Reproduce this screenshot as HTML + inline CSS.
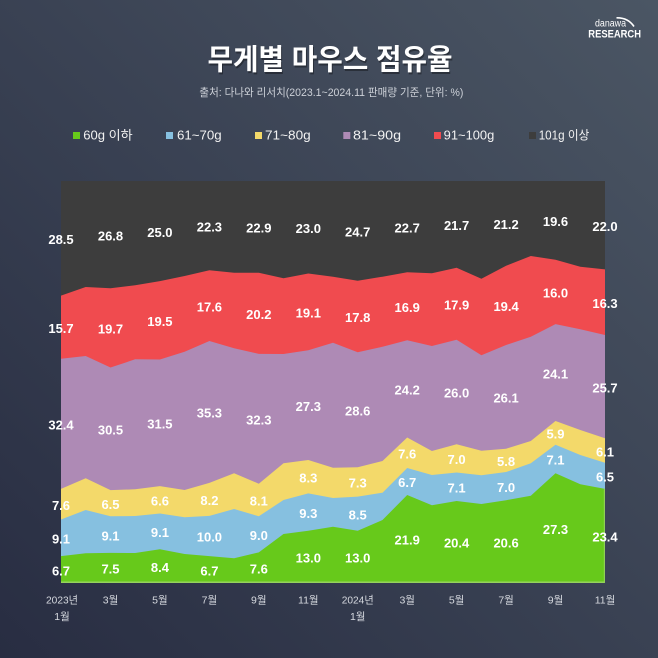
<!DOCTYPE html>
<html><head><meta charset="utf-8"><style>
html,body{margin:0;padding:0;background:#333a4c;}
svg{display:block;}
text{font-family:"Liberation Sans","Noto Sans CJK KR",sans-serif;}
</style></head><body>
<svg width="658" height="658" viewBox="0 0 658 658" xmlns="http://www.w3.org/2000/svg">
<defs>
<linearGradient id="bg" x1="0" y1="1" x2="1" y2="0">
<stop offset="0" stop-color="#282d42"/>
<stop offset="1" stop-color="#4b5664"/>
</linearGradient>
</defs>
<rect x="0" y="0" width="658" height="658" fill="url(#bg)"/>

<!-- logo -->
<text x="595" y="26.7" font-size="10" fill="#ffffff" textLength="31" lengthAdjust="spacingAndGlyphs">danawa</text>
<path d="M616.5,17.8 Q628,17.5 634,26.5" stroke="#ffffff" stroke-width="1.6" fill="none"/>
<text x="588.3" y="37.3" font-size="11" font-weight="bold" fill="#ffffff" textLength="52.7" lengthAdjust="spacingAndGlyphs">RESEARCH</text>

<!-- title -->
<text x="330" y="69.5" font-size="29" font-weight="bold" fill="#000" fill-opacity="0.35" text-anchor="middle" textLength="245" lengthAdjust="spacingAndGlyphs" transform="translate(1,2)">무게별 마우스 점유율</text>
<text x="330" y="69.5" font-size="29" font-weight="bold" fill="#ffffff" text-anchor="middle" textLength="245" lengthAdjust="spacingAndGlyphs">무게별 마우스 점유율</text>
<text x="331.4" y="96" font-size="11" fill="#cdd1d8" text-anchor="middle" textLength="264" lengthAdjust="spacingAndGlyphs">출처: 다나와 리서치(2023.1~2024.11 판매량 기준, 단위: %)</text>

<!-- legend -->
<g font-size="12.5" fill="#f2f2f2">
<rect x="73" y="132" width="7" height="7" fill="#67c91b"/>
<text x="83.3" y="139.5" textLength="49.4" lengthAdjust="spacingAndGlyphs">60g 이하</text>
<rect x="166" y="132" width="7" height="7" fill="#86c0e0"/>
<text x="177" y="139.5" textLength="44.7" lengthAdjust="spacingAndGlyphs">61~70g</text>
<rect x="255" y="132" width="7" height="7" fill="#f3d96a"/>
<text x="265" y="139.5" textLength="45.7" lengthAdjust="spacingAndGlyphs">71~80g</text>
<rect x="343.3" y="132" width="7" height="7" fill="#ae8ab5"/>
<text x="353" y="139.5" textLength="48" lengthAdjust="spacingAndGlyphs">81~90g</text>
<rect x="434" y="132" width="7" height="7" fill="#f04b4f"/>
<text x="443.7" y="139.5" textLength="50.6" lengthAdjust="spacingAndGlyphs">91~100g</text>
<rect x="529" y="132" width="7" height="7" fill="#3d3d3d"/>
<text x="538.7" y="139.5" textLength="50.6" lengthAdjust="spacingAndGlyphs">101g 이상</text>
</g>

<!-- chart -->
<rect x="61" y="181" width="544" height="402" fill="#3d3d3d"/>
<polygon fill="#f04b4f" points="61,295.6 85.7,287 110.5,288.3 135.2,285.3 159.9,281.1 184.6,276 209.4,270.2 234.1,272.7 258.8,272.7 283.5,278.3 308.3,273.5 333,276.7 357.7,280.7 382.5,276.7 407.2,272.3 431.9,273.3 456.6,267.8 481.4,278.7 506.1,265.8 530.8,256 555.5,259.8 580.3,266.7 605,269.4 605,583 61,583"/>
<polygon fill="#ae8ab5" points="61,358.7 85.7,356 110.5,367.5 135.2,359.3 159.9,359.5 184.6,351.7 209.4,341 234.1,348.3 258.8,353.9 283.5,354 308.3,350.2 333,342.7 357.7,352.3 382.5,346.7 407.2,340.2 431.9,346 456.6,339.8 481.4,355.3 506.1,345 530.8,336.7 555.5,324.1 580.3,329.3 605,335 605,583 61,583"/>
<polygon fill="#f3d96a" points="61,488.9 85.7,478.3 110.5,490.1 135.2,489.3 159.9,486.1 184.6,490 209.4,482.9 234.1,473.3 258.8,483.7 283.5,463.3 308.3,460 333,467.7 357.7,467.2 382.5,461 407.2,437.5 431.9,451 456.6,444.3 481.4,450.7 506.1,448.7 530.8,441 555.5,421 580.3,430 605,438.3 605,583 61,583"/>
<polygon fill="#86c0e0" points="61,519.5 85.7,510 110.5,516.3 135.2,516 159.9,513.5 184.6,517.3 209.4,515.9 234.1,509 258.8,516.3 283.5,500 308.3,493.4 333,498 357.7,496.6 382.5,492.7 407.2,468 431.9,475 456.6,472.5 481.4,475.3 506.1,472 530.8,463.3 555.5,444.7 580.3,455 605,462.8 605,583 61,583"/>
<polygon fill="#67c91b" points="61,556.1 85.7,553.3 110.5,552.9 135.2,553 159.9,549.2 184.6,554 209.4,556.1 234.1,558.3 258.8,552.4 283.5,534 308.3,530.7 333,526.7 357.7,530.7 382.5,520 407.2,495 431.9,505.3 456.6,501 481.4,504 506.1,500.2 530.8,495.7 555.5,473.3 580.3,484.3 605,488.9 605,583 61,583"/>
<line x1="61" y1="582.3" x2="605" y2="582.3" stroke="#95d35c" stroke-width="1.5"/>
<line x1="604.4" y1="488.9" x2="604.4" y2="583" stroke="#8fd055" stroke-width="1.2"/>

<!-- value labels -->
<g font-size="13" font-weight="bold" fill="#ffffff" text-anchor="middle">
<text x="61" y="244">28.5</text><text x="61" y="332.9">15.7</text><text x="61" y="429.5">32.4</text><text x="61" y="509.9">7.6</text><text x="61" y="543.5">9.1</text><text x="61" y="575.3">6.7</text>
<text x="110.5" y="240.4">26.8</text><text x="110.5" y="333.6">19.7</text><text x="110.5" y="434.5">30.5</text><text x="110.5" y="508.9">6.5</text><text x="110.5" y="540.3">9.1</text><text x="110.5" y="573.7">7.5</text>
<text x="159.9" y="236.8">25.0</text><text x="159.9" y="326">19.5</text><text x="159.9" y="428.5">31.5</text><text x="159.9" y="505.5">6.6</text><text x="159.9" y="537.1">9.1</text><text x="159.9" y="571.8">8.4</text>
<text x="209.4" y="231.3">22.3</text><text x="209.4" y="311.3">17.6</text><text x="209.4" y="417.7">35.3</text><text x="209.4" y="505.1">8.2</text><text x="209.4" y="541.7">10.0</text><text x="209.4" y="575.3">6.7</text>
<text x="258.8" y="232.6">22.9</text><text x="258.8" y="319">20.2</text><text x="258.8" y="424.5">32.3</text><text x="258.8" y="505.7">8.1</text><text x="258.8" y="540.1">9.0</text><text x="258.8" y="573.4">7.6</text>
<text x="308.3" y="233">23.0</text><text x="308.3" y="317.6">19.1</text><text x="308.3" y="410.8">27.3</text><text x="308.3" y="482.4">8.3</text><text x="308.3" y="517.8">9.3</text><text x="308.3" y="562.6">13.0</text>
<text x="357.7" y="236.6">24.7</text><text x="357.7" y="322.2">17.8</text><text x="357.7" y="415.5">28.6</text><text x="357.7" y="487.6">7.3</text><text x="357.7" y="519.4">8.5</text><text x="357.7" y="562.6">13.0</text>
<text x="407.2" y="232.4">22.7</text><text x="407.2" y="312">16.9</text><text x="407.2" y="394.6">24.2</text><text x="407.2" y="458.5">7.6</text><text x="407.2" y="487.2">6.7</text><text x="407.2" y="544.7">21.9</text>
<text x="456.6" y="230.1">21.7</text><text x="456.6" y="309.5">17.9</text><text x="456.6" y="397.7">26.0</text><text x="456.6" y="464.1">7.0</text><text x="456.6" y="492.5">7.1</text><text x="456.6" y="547.7">20.4</text>
<text x="506.1" y="229.1">21.2</text><text x="506.1" y="311.1">19.4</text><text x="506.1" y="402.6">26.1</text><text x="506.1" y="466.1">5.8</text><text x="506.1" y="491.8">7.0</text><text x="506.1" y="547.3">20.6</text>
<text x="555.5" y="226.1">19.6</text><text x="555.5" y="297.7">16.0</text><text x="555.5" y="378.3">24.1</text><text x="555.5" y="438.6">5.9</text><text x="555.5" y="464.7">7.1</text><text x="555.5" y="533.9">27.3</text>
<text x="605" y="230.9">22.0</text><text x="605" y="307.9">16.3</text><text x="605" y="392.4">25.7</text><text x="605" y="456.3">6.1</text><text x="605" y="481.6">6.5</text><text x="605" y="541.7">23.4</text>
</g>

<!-- x axis labels -->
<g font-size="10.5" fill="#d6d9df" text-anchor="middle">
<text x="62" y="603.3" textLength="32" lengthAdjust="spacingAndGlyphs">2023년</text>
<text x="62" y="620">1월</text>
<text x="110.5" y="603.3">3월</text>
<text x="159.9" y="603.3">5월</text>
<text x="209.4" y="603.3">7월</text>
<text x="258.8" y="603.3">9월</text>
<text x="308.3" y="603.3">11월</text>
<text x="357.7" y="603.3" textLength="32" lengthAdjust="spacingAndGlyphs">2024년</text>
<text x="357.7" y="620">1월</text>
<text x="407.2" y="603.3">3월</text>
<text x="456.6" y="603.3">5월</text>
<text x="506.1" y="603.3">7월</text>
<text x="555.5" y="603.3">9월</text>
<text x="605" y="603.3">11월</text>
</g>
</svg>
</body></html>
